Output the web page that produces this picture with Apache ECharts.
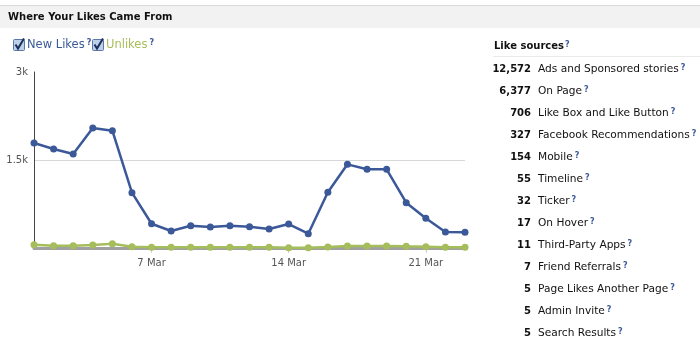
<!DOCTYPE html>
<html><head><meta charset="utf-8">
<script src="https://cdn.jsdelivr.net/npm/echarts@6/dist/echarts.min.js"></script>
<style>html,body{margin:0;padding:0;background:#fff}#c{width:700px;height:342px}</style>
</head><body><div id="c"></div>
<script>
var title = 'Where Your Likes Came From';
var dates = ['1 Mar','2 Mar','3 Mar','4 Mar','5 Mar','6 Mar','7 Mar','8 Mar','9 Mar','10 Mar','11 Mar','12 Mar','13 Mar','14 Mar','15 Mar','16 Mar','17 Mar','18 Mar','19 Mar','20 Mar','21 Mar','22 Mar','23 Mar'];
var shownDates = ['7 Mar','14 Mar','21 Mar'];
var seriesNames = ['New Likes','Unlikes'];
var newLikes = [1790,1688,1602,2045,2000,943,414,290,380,358,380,363,324,409,244,949,1426,1341,1341,773,506,273,267];
var unlikes = [57,40,40,51,74,23,11,11,11,11,11,11,11,6,6,17,34,34,34,28,23,11,11];
var yTicks = {1500:'1.5k',3000:'3k'};
var sourcesTitle = 'Like sources';
var sourceCounts = ['12,572','6,377','706','327','154','55','32','17','11','7','5','5','5'];
var sourceNames = ['Ads and Sponsored stories','On Page','Like Box and Like Button','Facebook Recommendations','Mobile','Timeline','Ticker','On Hover','Third-Party Apps','Friend Referrals','Page Likes Another Page','Admin Invite','Search Results'];

var FONT = 'DejaVu Sans';
var BLUE = '#3b5998', GREEN = '#a6bd5c';
var chart = echarts.init(document.getElementById('c'));

var graphics = [
  {type:'rect', shape:{x:0,y:5,width:700,height:23}, style:{fill:'#f2f2f2'}, silent:true},
  {type:'line', shape:{x1:0,y1:5.5,x2:700,y2:5.5}, style:{stroke:'#d9d9d9',lineWidth:1}},
  {type:'text', x:8, y:17, style:{text:title, font:'bold 10px "'+FONT+'"', fill:'#111', verticalAlign:'middle'}},
  {type:'line', shape:{x1:493,y1:56.5,x2:700,y2:56.5}, style:{stroke:'#eaeaea',lineWidth:1}},
  {type:'text', x:494, y:46, style:{text:'{t|'+sourcesTitle+'}{q|?}', verticalAlign:'middle',
    rich:{t:{font:'bold 10px "'+FONT+'"', fill:'#111'}, q:{font:'bold 8px "'+FONT+'"', fill:BLUE, verticalAlign:'top', padding:[0,0,0,1]}}}}
];
var legX = [13, 92], legColors = [BLUE, GREEN];
seriesNames.forEach(function(n,i){
  var x = legX[i];
  graphics.push({type:'rect', shape:{x:x+0.5,y:39.5,width:11,height:11,r:1}, style:{fill:'#bcd0ea',stroke:'#5a77a8',lineWidth:1}});
  graphics.push({type:'polyline', shape:{points:[[x+2.5,44.5],[x+5,48.5],[x+11,38.5]]}, style:{stroke:'#1c2f5c',lineWidth:2,fill:null}});
  graphics.push({type:'text', x:x+14, y:45, style:{text:'{t|'+n+'}{q|?}', verticalAlign:'middle',
    rich:{t:{font:'11.5px "'+FONT+'"', fill:legColors[i]}, q:{font:'bold 8px "'+FONT+'"', fill:BLUE, verticalAlign:'top', padding:[0,0,0,2]}}}});
});
sourceCounts.forEach(function(c,i){
  var y = 69 + i*22;
  graphics.push({type:'text', x:531, y:y, style:{text:c, font:'bold 10px "'+FONT+'"', fill:'#111', align:'right', verticalAlign:'middle'}});
  graphics.push({type:'text', x:538, y:y, style:{text:'{t|'+sourceNames[i]+'}{q|?}', verticalAlign:'middle',
    rich:{t:{font:'10.6px "'+FONT+'"', fill:'#111'}, q:{font:'bold 8px "'+FONT+'"', fill:BLUE, verticalAlign:'top', padding:[0,0,0,2]}}}});
});

function showIdx(i){ return shownDates.indexOf(dates[i]) >= 0; }

chart.setOption({
  animation:false,
  grid:{left:34, right:235, top:72, bottom:94, containLabel:false},
  xAxis:{type:'category', data:dates, boundaryGap:false,
    axisLine:{show:true, lineStyle:{color:'#a0a0a0', width:3}},
    axisTick:{show:true, alignWithLabel:true, interval:function(i){return showIdx(i);}, length:5, lineStyle:{color:'#d0d0d0'}},
    axisLabel:{interval:function(i){return showIdx(i);}, color:'#555', fontFamily:FONT, fontSize:10, margin:10},
    splitLine:{show:false}},
  yAxis:{type:'value', min:0, max:3000, interval:1500,
    axisLine:{show:true, lineStyle:{color:'#444', width:1}},
    axisTick:{show:false},
    axisLabel:{formatter:function(v){return yTicks[v]||'';}, color:'#555', fontFamily:FONT, fontSize:10, margin:6},
    splitLine:{show:true, lineStyle:{color:['transparent','#d8d8d8','transparent'], width:1}}},
  series:[
    {name:seriesNames[0], type:'line', data:newLikes, symbol:'circle', symbolSize:7, color:BLUE,
     lineStyle:{width:2.5, color:BLUE}, itemStyle:{color:BLUE}, z:3},
    {name:seriesNames[1], type:'line', data:unlikes, symbol:'circle', symbolSize:7, color:GREEN,
     lineStyle:{width:2.5, color:GREEN}, itemStyle:{color:GREEN}, z:2}
  ],
  graphic:graphics
});
</script></body></html>
